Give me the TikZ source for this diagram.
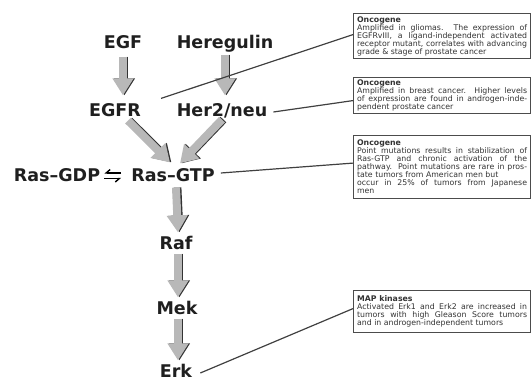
\documentclass[tikz,border=0pt]{standalone}
\usepackage{fontspec}
\setmainfont{DejaVu Sans}
\usetikzlibrary{arrows.meta,calc}

\tikzset{
  mol/.style={font=\fontsize{17.5}{20}\selectfont\bfseries, text=black!88,
    inner sep=0pt, text height=12.8pt, text depth=0pt},
  notebox/.style={draw=black!70, line width=1.2pt, fill=white, anchor=north west,
    text width=170pt, inner xsep=3.5pt, inner ysep=2pt, align=justify,
    font=\fontsize{7.8}{8}\selectfont, text=black!80},
  pathshadow/.style={line width=8pt, draw=black!80,
    -{Triangle[width=20pt,length=17pt]}, transform canvas={xshift=1.4pt}},
  pathbody/.style={line width=8pt, draw=black!28,
    -{Triangle[width=20pt,length=17pt]}},
  link/.style={draw=black!75, line width=1.2pt},
  equil/.style={draw=black, line width=1.4pt}
}
% grey block arrow with a dark rim on its right side
\newcommand{\blockarrow}[2]{%
  \draw[pathshadow] #1 -- #2;
  \draw[pathbody] #1 -- #2;}

\begin{document}
\begin{tikzpicture}[x=1pt,y=-1pt]
\useasboundingbox (0,0) rectangle (531,383);

% pathway members
\node[mol] (egf)   at (123,42)  {EGF};
\node[mol] (hrg)   at (225,42)  {Heregulin};
\node[mol] (egfr)  at (115,110) {EGFR};
\node[mol] (her2)  at (222,110) {Her2/neu};
\node[mol] (rasgdp) at (57,175) {Ras–GDP};
\node[mol] (rasgtp) at (173,175) {Ras–GTP};
\node[mol] (raf)   at (176,243) {Raf};
\node[mol] (mek)   at (177,308) {Mek};
\node[mol] (erk)   at (176,371) {Erk};

% signalling arrows
\blockarrow{([yshift=-8pt]egf.south)}{([yshift=8pt]egf.south |- egfr.north)}
\blockarrow{([yshift=-6pt]hrg.south)}{([yshift=8pt]hrg.south |- her2.north)}
\blockarrow{($(egfr.south)+(13,4)$)}{($(rasgtp.north)+(-3,-6)$)}
\blockarrow{($(her2.south)+(0,3)$)}{($(rasgtp.north)+(7,-5)$)}
\blockarrow{([yshift=-6pt]rasgtp.south -| raf.north)}{([yshift=4pt,xshift=2pt]raf.north)}
\blockarrow{([yshift=-4pt,xshift=2pt]raf.south)}{([yshift=4pt,xshift=1pt]mek.north)}
\blockarrow{([yshift=-4pt,xshift=1pt]mek.south)}{([yshift=4pt,xshift=2pt]erk.north)}

% Ras-GDP / Ras-GTP exchange
\draw[equil, -{Straight Barb[right,length=4pt,width=7pt]}]
  ([xshift=-10pt,yshift=2pt]rasgtp.west) -- ([xshift=4pt,yshift=2pt]rasgdp.east);
\draw[equil, -{Straight Barb[right,length=4pt,width=7pt]}]
  ([xshift=4pt,yshift=-3.5pt]rasgdp.east) -- ([xshift=-10pt,yshift=-3.5pt]rasgtp.west);

% annotation boxes
\node[notebox, minimum height=45pt] (n1) at (353,13) {%
  {\bfseries Oncogene}\\
  Amplified in gliomas. The expression of\linebreak
  EGFRvIII, a ligand-independent activated\linebreak
  receptor mutant, correlates with advancing\linebreak
  grade \& stage of prostate cancer};
\node[notebox, minimum height=36pt] (n2) at (353,77) {%
  {\bfseries Oncogene}\\
  Amplified in breast cancer.\ \ Higher levels\linebreak
  of expression are found in androgen-inde-\linebreak
  pendent prostate cancer};
\node[notebox, minimum height=63pt] (n3) at (353,135) {%
  {\bfseries Oncogene}\\
  Point mutations results in stabilization of\linebreak
  Ras-GTP and chronic activation of the\linebreak
  pathway.\ \ Point mutations are rare in pros-\linebreak
  tate tumors from American men but\\
  occur in 25\% of tumors from Japanese\linebreak
  men};
\node[notebox, minimum height=42pt] (n4) at (353,290) {%
  {\bfseries MAP kinases}\\
  Activated Erk1 and Erk2 are increased in\linebreak
  tumors with high Gleason Score tumors\linebreak
  and in androgen-independent tumors};

% leaders to the notes
\draw[link] ($(egfr.north east)+(20,-5)$) -- ([yshift=1.5pt]n1.west);
\draw[link] ([xshift=6pt,yshift=-2pt]her2.east) -- ([yshift=-5pt]n2.west);
\draw[link] ([xshift=6pt,yshift=2pt]rasgtp.east) -- ([yshift=4pt]n3.west);
\draw[link] ([xshift=8pt,yshift=-2pt]erk.east) -- ([yshift=3pt]n4.west);
\end{tikzpicture}
\end{document}
